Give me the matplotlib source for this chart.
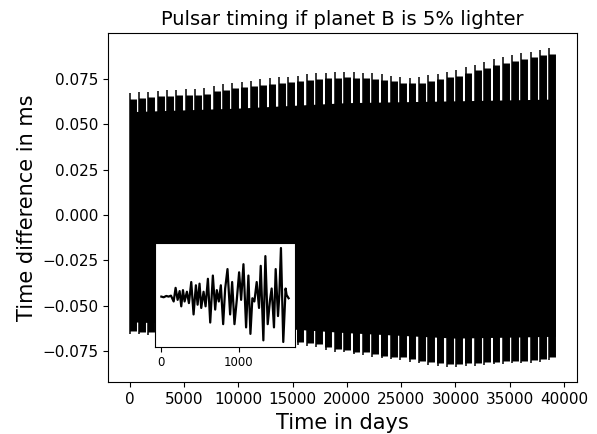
import numpy as np
from matplotlib import pyplot as plt

# main series: one "tower" of the dense trace every ~859 days
tower_days = np.arange(46) * 859.0
tower_peaks = [0.0671, 0.0677, 0.0680, 0.0684, 0.0688, 0.0690, 0.0693, 0.0695, 0.0699, 0.0712,
               0.0721, 0.0730, 0.0736, 0.0741, 0.0749, 0.0754,
               0.0760, 0.0763, 0.0767, 0.0776, 0.0782, 0.0785, 0.0787, 0.0789, 0.0787, 0.0785,
               0.0782, 0.0776, 0.0769, 0.0760, 0.0756,
               0.0760, 0.0771, 0.0780, 0.0789, 0.0798, 0.0815, 0.0828, 0.0843, 0.0859, 0.0870,
               0.0881, 0.0892, 0.0901, 0.0911, 0.0920]
tower_troughs = [-0.0655, -0.0660, -0.0663, -0.0667,
                 -0.0668, -0.0670, -0.0672, -0.0675, -0.0678, -0.0682, -0.0686, -0.0690,
                 -0.0694, -0.0698, -0.0702, -0.0706, -0.0710, -0.0714, -0.0718,
                 -0.0722, -0.0728, -0.0746, -0.0755, -0.0759, -0.0770, -0.0774, -0.0783,
                 -0.0792, -0.0797, -0.0801, -0.0811,
                 -0.0820, -0.0829, -0.0833, -0.0838, -0.0838, -0.0833, -0.0833, -0.0829,
                 -0.0825, -0.0823, -0.0820, -0.0820, -0.0816, -0.0811, -0.0801]
# solid core of the trace (where the oscillation fills everything)
core_days = [0, 10000, 20000, 30000, 39200]
core_top = [0.057, 0.059, 0.062, 0.063, 0.064]
core_bottom = [-0.059, -0.061, -0.065, -0.068, -0.067]

# inset: first ~1650 days of the residual
inset_days = [0, 30, 64, 94, 124, 159, 184, 210, 236, 257, 279, 300, 330, 356, 386, 416, 446,
              468, 493, 515, 545, 571, 601, 631, 665, 695, 716, 742, 768, 798, 824, 854, 888,
              914, 944, 974, 1004, 1030, 1060, 1094, 1124, 1150, 1175, 1201, 1231, 1261, 1283,
              1317, 1343, 1373, 1403, 1424, 1454, 1476, 1506, 1523, 1544, 1574, 1604, 1617, 1643]
inset_vals = [0.0, -0.0002, 0.0002, 0.0, 0.0003, -0.0015, 0.0027, -0.0010, 0.0017, -0.0030,
              0.0020, -0.0015, 0.0015, -0.0020, 0.0045, -0.0055, 0.0035, -0.0025, 0.0040,
              -0.0035, 0.0015, -0.0030, 0.0055, -0.0080, 0.0065, -0.0040, 0.0020, -0.0015,
              0.0035, -0.0085, 0.0025, 0.0085, -0.0055, 0.0045, -0.0085, -0.0010, 0.0075,
              -0.0010, 0.0100, -0.0095, 0.0065, -0.0115, -0.0005, -0.0015, 0.0045, -0.0035,
              0.0095, -0.0135, 0.0125, -0.0085, -0.0010, 0.0025, -0.0095, 0.0085, -0.0060,
              0.0005, 0.0150, -0.0140, 0.0025, 0.0005, -0.0005]

fig = plt.figure(figsize=(5.97, 4.34), dpi=100)
ax = fig.add_axes([0.1814, 0.1191, 0.7846, 0.8042])

peaks = np.array(tower_peaks)
troughs = np.array(tower_troughs)
ax.fill_between(core_days, core_bottom, core_top, color='k', lw=0)
# thin spikes and wider shoulders of each tower
ax.vlines(tower_days, troughs, peaks, color='k', lw=1.1)
ax.vlines(tower_days + 270, troughs + 0.0015, peaks - 0.003, color='k', lw=5.0)

ax.set_xlim(-1960, 41160)
ax.set_ylim(-0.0924, 0.1003)
ax.set_xticks([0, 5000, 10000, 15000, 20000, 25000, 30000, 35000, 40000])
ax.set_yticks([-0.075, -0.05, -0.025, 0, 0.025, 0.05, 0.075])
ax.tick_params(labelsize=11)
ax.set_title('Pulsar timing if planet B is 5% lighter', fontsize=14)
ax.set_xlabel('Time in days', fontsize=15)
ax.set_ylabel('Time difference in ms', fontsize=15)

ins = fig.add_axes([0.2596, 0.2012, 0.2345, 0.2382])
ins.plot(inset_days, inset_vals, color='k', lw=1.6)
ins.set_xticks([0, 1000])
ins.set_yticks([])
ins.tick_params(labelsize=8.5)

fig.savefig('out.png', dpi=100)
